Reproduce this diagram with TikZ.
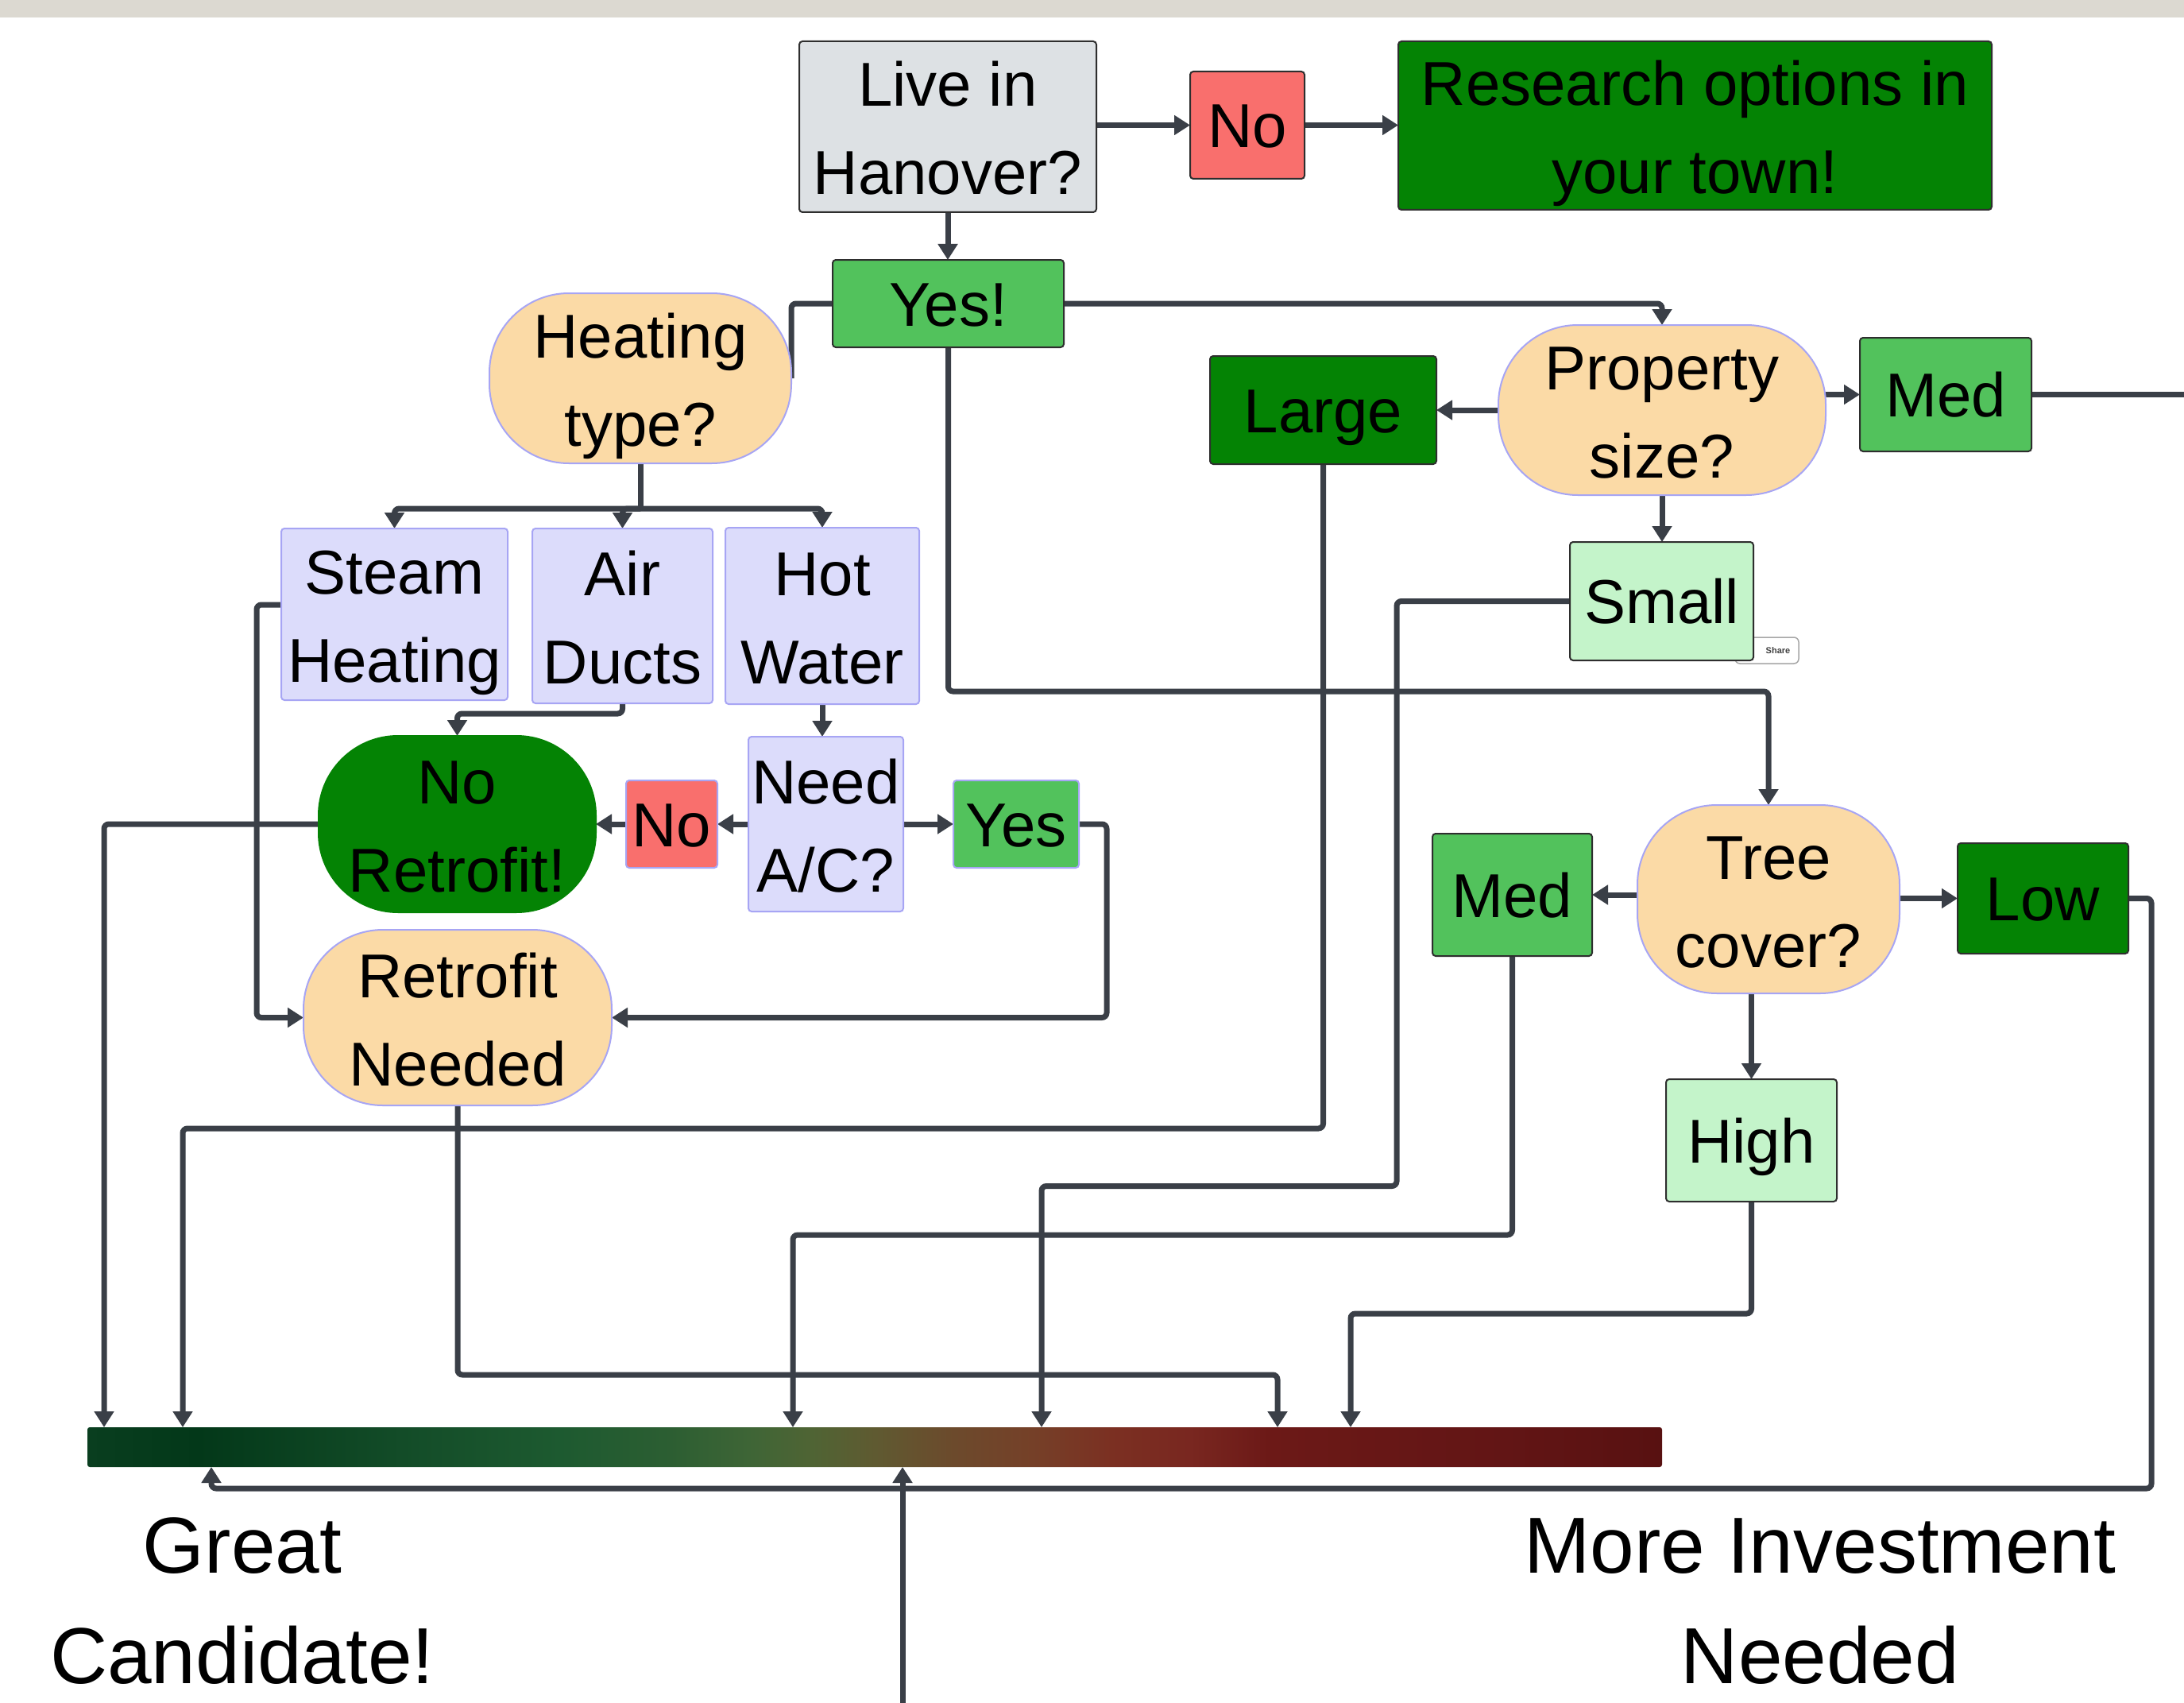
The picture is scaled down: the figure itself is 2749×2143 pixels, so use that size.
\documentclass[tikz,border=0pt]{standalone}
\usepackage{fontspec}
\newfontfamily\sansf{Liberation Sans}
\usetikzlibrary{arrows.meta,calc}
\definecolor{lnc}{HTML}{3A3F47}
\definecolor{cgray}{HTML}{DDE1E4}
\definecolor{cdark}{HTML}{2E2E2E}
\definecolor{cred}{HTML}{F96F6D}
\definecolor{cdg}{HTML}{048304}
\definecolor{cmg}{HTML}{52C25C}
\definecolor{clg}{HTML}{C4F4CA}
\definecolor{clav}{HTML}{DCDCFB}
\definecolor{cpur}{HTML}{A7A5F4}
\definecolor{cpeach}{HTML}{FBDAA6}
\definecolor{cband}{HTML}{DCD9D1}
\definecolor{gA}{HTML}{093E1F}
\definecolor{gB}{HTML}{033819}
\definecolor{gC}{HTML}{134C28}
\definecolor{gD}{HTML}{1D5A30}
\definecolor{gE}{HTML}{2C5E32}
\definecolor{gF}{HTML}{3E6536}
\definecolor{gG}{HTML}{4F6434}
\definecolor{gH}{HTML}{5F5A31}
\definecolor{gI}{HTML}{6C4A2C}
\definecolor{gJ}{HTML}{754028}
\definecolor{gK}{HTML}{7B3022}
\definecolor{gL}{HTML}{792720}
\definecolor{gM}{HTML}{6C1917}
\definecolor{gN}{HTML}{621515}
\definecolor{gO}{HTML}{581111}
\pgfdeclarehorizontalshading{barshade}{100bp}{color(0bp)=(gA); color(25bp)=(gA); color(28.5bp)=(gB); color(35bp)=(gC); color(40bp)=(gD); color(43.5bp)=(gE); color(46bp)=(gF); color(48bp)=(gG); color(50bp)=(gH); color(52.5bp)=(gI); color(55bp)=(gJ); color(57.5bp)=(gK); color(60bp)=(gL); color(62.5bp)=(gM); color(70bp)=(gN); color(75bp)=(gO); color(100bp)=(gO)}
\newcommand\boxfont{\sansf\fontsize{78pt}{111pt}\selectfont}
\newcommand\bigfont{\sansf\fontsize{100pt}{139pt}\selectfont}
\newcommand\twoln[2]{\rule{0pt}{78pt}#1\\#2\rule[-18pt]{0pt}{18pt}}
\pgfdeclarelayer{bg}
\pgfdeclarelayer{paper}
\pgfsetlayers{paper,bg,main}
\begin{document}
\begin{tikzpicture}[x=1pt,y=-1pt,
  nb/.style={inner sep=0pt, outer sep=0pt, align=center, font=\boxfont, line width=2pt, rounded corners=4pt},
  dbox/.style={nb, draw=cdark},
  pbox/.style={nb, draw=cpur},
  pill/.style={nb, draw=cpur, fill=cpeach, rounded corners=100pt},
  one/.style={text height=56pt, text depth=0pt},
  ln/.style={draw=lnc, line width=7pt, rounded corners=6pt},
  arr/.style={ln, -{Triangle[length=20pt,width=24pt]}},
  btxt/.style={inner sep=0pt, font=\bigfont, anchor=base}
]
\useasboundingbox (0,0) rectangle (2749,2143);
\begin{pgfonlayer}{paper}
\fill[white] (0,0) rectangle (2749,2143);
\fill[cband] (0,0) rectangle (2749,22);
\end{pgfonlayer}

% nodes
\node[dbox, fill=cgray, minimum width=374, minimum height=215] (live) at (1193,159.5) {\twoln{Live in}{Hanover?}};
\node[dbox, one, fill=cred, minimum width=144, minimum height=135] (no1) at (1570,157.5) {No};
\node[dbox, fill=cdg, minimum width=747, minimum height=212] (research) at (2133.5,158) {\twoln{Research options in}{your town!}};
\node[dbox, one, fill=cmg, minimum width=291, minimum height=110] (yes1) at (1193.5,382) {Yes!};
\node[pill, minimum width=380, minimum height=214] (heat) at (806,476) {\twoln{Heating}{type?}};
\node[pbox, fill=clav, minimum width=285, minimum height=216] (steam) at (496.5,773) {\twoln{Steam}{Heating}};
\node[pbox, fill=clav, minimum width=227, minimum height=220] (air) at (783.5,775) {\twoln{Air}{Ducts}};
\node[pbox, fill=clav, minimum width=244, minimum height=222] (hot) at (1035,775) {\twoln{Hot}{Water}};
\node[pbox, fill=clav, minimum width=195, minimum height=220] (needac) at (1039.5,1037) {\twoln{Need}{A/C?}};
\node[pbox, one, fill=cred, minimum width=115, minimum height=110] (no2) at (845.5,1037) {No};
\node[nb, draw=cdg, fill=cdg, rounded corners=100pt, minimum width=349, minimum height=222] (noretro) at (575.5,1037) {\twoln{No}{Retrofit!}};
\node[pbox, one, fill=cmg, minimum width=158, minimum height=110] (yes2) at (1279,1037) {Yes};
\node[pill, minimum width=388, minimum height=221] (retro) at (576,1280.5) {\twoln{Retrofit}{Needed}};
\node[dbox, one, fill=cdg, minimum width=285, minimum height=136] (large) at (1665.5,516) {Large};
\node[pill, minimum width=412, minimum height=214] (prop) at (2092,516) {\twoln{Property}{size?}};
\node[dbox, one, fill=cmg, minimum width=216, minimum height=143] (med1) at (2449,496.5) {Med};
\node[draw=black!35, fill=white, line width=1.5pt, rounded corners=6pt, minimum width=80, minimum height=33, inner sep=0pt] (share) at (2224,818.5) {};
\node[font=\sansf\bfseries\fontsize{11pt}{13pt}\selectfont, text=black!75, inner sep=0pt] (sharet) at (2238,818.5) {Share};
\node[dbox, one, fill=clg, minimum width=231, minimum height=149] (small) at (2091.5,756.5) {Small};
\node[pill, minimum width=330, minimum height=237] (tree) at (2226,1131.5) {\twoln{Tree}{cover?}};
\node[dbox, one, fill=cmg, minimum width=201, minimum height=154] (med2) at (1903.5,1126) {Med};
\node[dbox, one, fill=cdg, minimum width=215, minimum height=139] (low) at (2571.5,1130.5) {Low};
\node[dbox, one, fill=clg, minimum width=215, minimum height=154] (high) at (2204.5,1435) {High};
\node[inner sep=0pt, outer sep=0pt, minimum width=1982, minimum height=50, rounded corners=3pt, shade, shading=barshade] (bar) at (1101,1821) {};

\node[btxt] (gr1) at (305,1979) {Great};
\node[btxt] (gr2) at (305,2118) {Candidate!};
\node[btxt] (mi1) at (2291,1979) {More Investment};
\node[btxt] (mi2) at (2291,2118) {Needed};

% coordinates on the bar and free ends
\coordinate (hb) at (806,640);
\coordinate (t1) at (131,1796);
\coordinate (t2) at (230,1796);
\coordinate (t3) at (998,1796);
\coordinate (t4) at (1311,1796);
\coordinate (t5) at (1608,1796);
\coordinate (t6) at (1700,1796);
\coordinate (u1) at (266,1846);
\coordinate (u2) at (1136,1846);
\coordinate (src) at (1136,2143);
\coordinate (edge) at (2749,496.5);

\begin{pgfonlayer}{bg}
\draw[arr] (live.south) -- (live.south |- yes1.north);
\draw[arr] (live.east |- no1.west) -- (no1.west);
\draw[arr] (no1.east) -- (research.west |- no1.east);
\draw[ln] (yes1.west) -| (heat.east);
\draw[ln] (heat.south) -- (hb);
\draw[arr] (hb) -| (steam.north);
\draw[arr] (hb) -| (air.north);
\draw[arr] (hb) -| (hot.north);
\draw[arr] (air.south) -- ++(0,13) -| (noretro.north);
\draw[arr] (hot.south) -- (hot.south |- needac.north);
\draw[arr] (needac.west) -- (no2.east);
\draw[arr] (no2.west) -- (noretro.east);
\draw[arr] (needac.east) -- (yes2.west);
\draw[arr] (yes2.east) -- ++(35,0) |- (retro.east);
\draw[arr] ([yshift=12pt]steam.west) -- ++(-31,0) |- (retro.west);
\draw[arr] (noretro.west) -| (t1);
\draw[arr] (large.south) -- ++(0,836) -| (t2);
\draw[arr] (retro.south) -- ++(0,339) -| (t5);
\draw[arr] (small.west) -- ++(-218,0) -- ++(0,736) -| (t4);
\draw[arr] (yes1.east) -| (prop.north);
\draw[arr] (prop.west) -- (large.east);
\draw[arr] (prop.east |- med1.west) -- (med1.west);
\draw[ln] (med1.east) -- (edge);
\draw[arr] (prop.south) -- (prop.south |- small.north);
\draw[arr] (yes1.south) -- ++(0,433) -| (tree.north);
\draw[arr] (tree.west |- med2.east) -- (med2.east);
\draw[arr] (tree.east |- low.west) -- (low.west);
\draw[arr] (high.north |- tree.south) -- (high.north);
\draw[arr] (med2.south) -- ++(0,351) -| (t3);
\draw[arr] (high.south) -- ++(0,141) -| (t6);
\draw[arr] (low.east) -- ++(29,0) -- ++(0,742.5) -| (u1);
\draw[arr] (src) -- (u2);
\end{pgfonlayer}
\end{tikzpicture}
\end{document}
